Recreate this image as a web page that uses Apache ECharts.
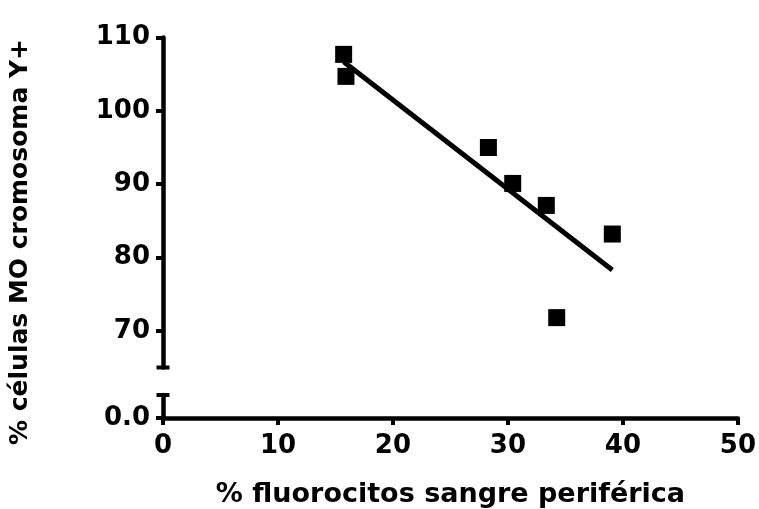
<!DOCTYPE html>
<html>
<head>
<meta charset="utf-8">
<script src="https://cdn.jsdelivr.net/npm/echarts@6/dist/echarts.min.js"></script>
<style>
  html, body {margin: 0; padding: 0; background: #fff;}
  #chart {width: 759px; height: 509px;}
</style>
</head>
<body>
<div id="chart"></div>
<script>
// puntos
const fluoX = [15.6, 15.8, 28.1, 30.2, 33.1, 34.0, 38.8];
const celulasY = [107.7, 104.7, 95.0, 90.1, 87.1, 71.8, 83.2];
// recta de regresion (extremos)
const fitX = [15.6, 38.8];
const fitY = [106.7, 78.3];
const yTicksTop = [70, 80, 90, 100, 110];
const yTicksBottom = [0];

const font = 'DejaVu Sans';
const black = '#000';

const chart = echarts.init(document.getElementById('chart'));

const axisCommon = {
    axisLine: {show: true, lineStyle: {color: black, width: 4.5}},
    axisTick: {show: true, inside: false, length: 7, lineStyle: {color: black, width: 4}},
    splitLine: {show: false},
    axisLabel: {color: black, fontFamily: font, fontWeight: 'bold', fontSize: 26}
};

chart.setOption({
    backgroundColor: '#fff',
    animation: false,
    grid: [
        {left: 163, right: 17, top: 37.5, height: 330},
        {left: 163, right: 17, top: 395, height: 24}
    ],
    xAxis: [
        {
            gridIndex: 0, type: 'value', min: 0, max: 50, show: false
        },
        {
            gridIndex: 1, type: 'value', min: 0, max: 50, interval: 10,
            axisLine: axisCommon.axisLine,
            axisTick: axisCommon.axisTick,
            splitLine: {show: false},
            axisLabel: Object.assign({}, axisCommon.axisLabel, {margin: 15}),
            name: '% fluorocitos sangre periférica',
            nameLocation: 'middle',
            nameGap: 63,
            nameTextStyle: {color: black, fontFamily: font, fontWeight: 'bold', fontSize: 27}
        }
    ],
    yAxis: [
        {
            gridIndex: 0, type: 'value', min: 65, max: 110,
            axisLine: Object.assign({}, axisCommon.axisLine, {symbol: ['rect', 'none'], symbolSize: [13, 4]}),
            axisTick: Object.assign({}, axisCommon.axisTick, {customValues: yTicksTop}),
            splitLine: {show: false},
            axisLabel: Object.assign({}, axisCommon.axisLabel, {margin: 13, customValues: yTicksTop})
        },
        {
            gridIndex: 1, type: 'value', min: 0, max: 10,
            axisLine: Object.assign({}, axisCommon.axisLine, {symbol: ['none', 'rect'], symbolSize: [13, 4]}),
            axisTick: Object.assign({}, axisCommon.axisTick, {customValues: yTicksBottom}),
            splitLine: {show: false},
            axisLabel: Object.assign({}, axisCommon.axisLabel, {
                margin: 13, customValues: yTicksBottom,
                formatter: v => v.toFixed(1)
            })
        }
    ],
    graphic: [{
        type: 'text',
        x: 20, y: 242,
        rotation: Math.PI / 2,
        style: {
            text: '% células MO cromosoma Y+',
            fill: black,
            font: 'bold 25px "DejaVu Sans"',
            align: 'center',
            verticalAlign: 'middle'
        }
    }],
    series: [
        {
            type: 'line',
            xAxisIndex: 0, yAxisIndex: 0,
            data: fitX.map((x, i) => [x, fitY[i]]),
            showSymbol: false,
            lineStyle: {color: black, width: 5},
            z: 2
        },
        {
            type: 'scatter',
            xAxisIndex: 0, yAxisIndex: 0,
            symbol: 'rect',
            symbolSize: 17,
            data: fluoX.map((x, i) => [x, celulasY[i]]),
            itemStyle: {color: black, opacity: 1},
            z: 3
        }
    ]
});
</script>
</body>
</html>
